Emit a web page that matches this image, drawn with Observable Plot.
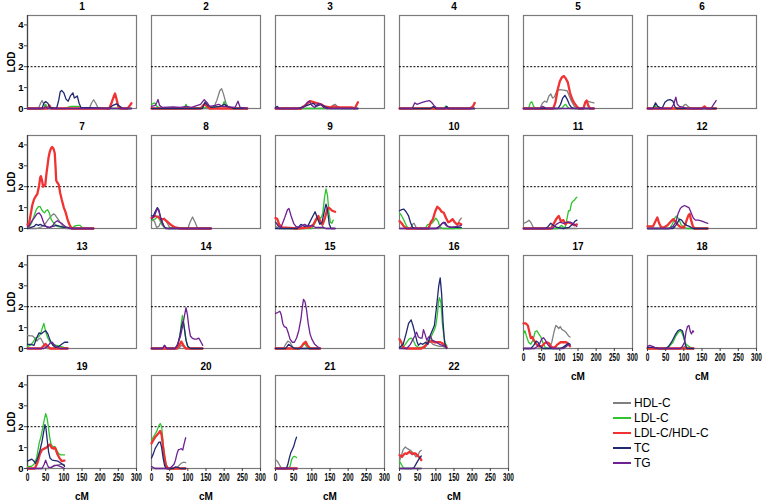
<!DOCTYPE html>
<html><head><meta charset="utf-8">
<script src="https://cdn.jsdelivr.net/npm/d3@7"></script>
<script src="https://cdn.jsdelivr.net/npm/@observablehq/plot@0.6"></script>
<style>
body{margin:0;background:#fff;}
#wrap{position:relative;width:769px;height:503px;font-family:"Liberation Sans",Arial,sans-serif;}
#legend{position:absolute;left:613px;top:396px;font-size:12px;color:#000;}
.item{display:flex;align-items:center;height:14.9px;white-space:nowrap;}
.sw{width:18px;height:2px;margin-right:3px;}
svg{overflow:visible;}
</style></head><body><div id="wrap"><div id="chart"></div><div id="legend"></div></div>
<script>
const chromosomes = ["1","2","3","4","5","6","7","8","9","10","11","12","13","14","15","16","17","18","19","20","21","22"];
const traitNames = ["HDL-C","LDL-C","LDL-C/HDL-C","TC","TG"];
const xTicks = [0,50,100,150,200,250,300];
const yTicks = [0,1,2,3,4];
const threshold = [2];

const HDL_C = {
 1:[[0,0],[30,0],[36,0.25],[40,0.38],[45,0.2],[50,0],[170,0],[176,0.25],[182,0.42],[188,0.25],[195,0],[286,0]],
 2:[[0,0],[170,0],[180,0.4],[188,0.85],[193,0.95],[198,0.7],[205,0.25],[212,0.05],[264,0]],
 3:[[0,0],[150,0],[158,0.15],[164,0.2],[170,0.1],[180,0],[227,0]],
 4:[[0,0],[207,0]],
 5:[[0,0],[45,0],[52,0.25],[58,0.35],[64,0.3],[70,0.6],[75,0.7],[80,0.5],[85,0.55],[92,0.85],[100,0.9],[110,0.88],[120,0.85],[126,0.6],[132,0.35],[140,0.1],[150,0],[165,0],[170,0.3],[176,0.35],[185,0.3],[194,0.27]],
 6:[[0,0],[95,0],[100,0.15],[105,0.2],[112,0.1],[120,0],[189,0]],
 7:[[0,0],[25,0],[35,0.05],[45,0.15],[52,0.3],[58,0.45],[63,0.55],[68,0.65],[72,0.7],[76,0.65],[80,0.55],[86,0.4],[92,0.25],[98,0.1],[105,0],[182,0]],
 8:[[0,0.4],[8,0.35],[14,0.05],[20,0.1],[28,0.4],[35,0.5],[42,0.3],[50,0.05],[100,0],[106,0.3],[113,0.55],[120,0.3],[127,0],[164,0]],
 9:[[0,0.1],[10,0],[80,0],[90,0.15],[100,0.1],[108,0.3],[115,0.5],[122,0.35],[130,0.1],[136,0],[164,0]],
 10:[[0,0],[30,0],[36,0.2],[40,0.25],[46,0.05],[55,0],[150,0],[158,0.1],[164,0.35],[170,0.5]],
 11:[[0,0.25],[8,0.3],[15,0.4],[20,0.3],[27,0.05],[35,0],[147,0]],
 12:[[0,0],[60,0],[66,0.1],[72,0.05],[80,0],[166,0]],
 13:[[0,0.63],[8,0.6],[14,0.6],[20,0.5],[26,0.35],[30,0.45],[36,0.5],[42,0.3],[48,0.1],[55,0],[111,0]],
 14:[[0,0],[75,0],[82,0.15],[88,0.1],[95,0],[141,0]],
 15:[[0,0],[22,0],[28,0.2],[34,0.35],[40,0.3],[46,0.1],[52,0],[123,0]],
 16:[[0,0.1],[10,0],[60,0],[70,0.15],[78,0.4],[84,0.35],[92,0.2],[100,0.15],[110,0.1],[120,0.1],[130,0]],
 17:[[0,0],[70,0],[78,0.3],[84,0.8],[89,1.1],[93,1.05],[97,0.95],[101,1.05],[106,0.9],[112,0.85],[118,0.75],[124,0.6],[128,0.55]],
 18:[[0,0],[95,0],[102,0.1],[108,0.05],[115,0],[127,0]],
 19:[[0,0],[60,0],[70,0.1],[80,0.15],[90,0.2],[100,0.2],[102,0.15]],
 20:[[0,0],[60,0],[70,0.05],[76,0.15],[82,0.25],[88,0.3],[94,0.28]],
 21:[[0,0.42],[5,0.35],[10,0.2],[15,0.05],[20,0],[59,0]],
 22:[[0,0.37],[5,0.6],[10,0.9],[16,1.03],[22,0.95],[30,0.87],[39,0.72],[45,0.56],[50,0.6],[55,0.8],[60,0.87]]
};

const LDL_C = {
 1:[[0,0],[45,0],[50,0.2],[54,0.05],[60,0],[105,0],[110,0.05],[120,0.1],[140,0.1],[150,0],[286,0]],
 2:[[0,0.2],[9,0.27],[15,0.1],[25,0],[90,0],[95,0.2],[100,0],[195,0.1],[200,0.33],[205,0.1],[215,0],[264,0]],
 3:[[0,0],[227,0]],
 4:[[0,0],[122,0],[128,0.12],[134,0],[207,0]],
 5:[[0,0],[14,0],[19,0.28],[23,0.32],[28,0.1],[33,0],[105,0],[112,0.15],[116,0.2],[122,0.05],[128,0],[194,0]],
 6:[[0,0],[15,0],[21,0.15],[27,0],[189,0]],
 7:[[0,0.15],[6,0.1],[12,0.3],[18,0.6],[24,0.9],[30,1.05],[35,1.05],[39,0.9],[43,0.8],[47,0.75],[51,0.85],[55,0.9],[60,0.75],[65,0.45],[70,0.3],[76,0.2],[82,0.1],[95,0.05],[115,0.05],[125,0.05],[130,0.12],[138,0.15],[145,0.15],[150,0.05],[155,0],[182,0]],
 8:[[0,0.4],[10,0.45],[18,0.6],[24,0.35],[30,0.15],[38,0],[164,0]],
 9:[[0,0.3],[6,0.2],[12,0.05],[20,0],[100,0],[110,0.3],[118,0.55],[125,0.5],[130,0.7],[135,1.5],[139,1.9],[143,1.6],[147,0.8],[151,0.3],[155,0.25],[159,0.4]],
 10:[[0,0.75],[6,0.6],[12,0.4],[20,0.1],[28,0],[70,0],[78,0.2],[85,0.2],[92,0.3],[100,0.5],[106,0.35],[112,0.05],[120,0],[170,0]],
 11:[[0,0],[95,0],[105,0.15],[110,0.05],[115,0.05],[120,0.5],[124,0.85],[128,0.85],[132,1.2],[136,1.3],[140,1.35],[144,1.45],[147,1.5]],
 12:[[0,0],[60,0],[68,0.2],[75,0.5],[80,0.6],[86,0.45],[92,0.2],[100,0.05],[110,0],[166,0]],
 13:[[0,0.1],[8,0.15],[15,0.3],[22,0.5],[30,0.55],[36,0.7],[41,1.0],[45,1.2],[50,0.8],[56,0.5],[62,0.3],[70,0.2],[80,0.15],[90,0.1],[100,0.05],[111,0]],
 14:[[0,0],[65,0],[72,0.1],[78,0.6],[82,1.2],[85,1.58],[89,1.2],[93,0.6],[98,0.15],[105,0],[141,0]],
 15:[[0,0],[65,0],[72,0.1],[79,0.25],[85,0.1],[92,0],[123,0]],
 16:[[0,0],[10,0.05],[18,0.25],[26,0.45],[32,0.5],[38,0.4],[44,0.15],[52,0.05],[70,0.05],[80,0.3],[88,0.6],[96,0.9],[100,1.1],[104,1.6],[108,2.3],[110,2.43],[114,2.2],[118,1.2],[122,0.6],[126,0.25],[130,0.15]],
 17:[[0,0.7],[4,0.85],[8,0.6],[14,0.3],[20,0.2],[26,0.4],[32,0.8],[37,0.85],[42,0.7],[48,0.55],[54,0.25],[60,0.05],[70,0],[100,0],[110,0.05],[120,0.15],[128,0.2]],
 18:[[0,0],[50,0],[60,0.1],[70,0.3],[78,0.6],[86,0.8],[92,0.85],[98,0.6],[104,0.25],[110,0.15],[118,0.05],[125,0],[127,0]],
 19:[[0,0.1],[10,0.1],[18,0.2],[25,0.5],[32,1.2],[38,1.6],[43,2.05],[47,2.4],[50,2.63],[54,2.4],[57,2.05],[61,1.5],[65,1.15],[70,1.05],[75,1.05],[80,0.9],[86,0.7],[92,0.65],[98,0.65],[102,0.65]],
 20:[[0,1.35],[5,1.5],[10,1.65],[15,1.8],[20,2.05],[24,2.15],[28,2.0],[32,1.2],[36,0.6],[40,0.2],[45,0.05],[50,0],[94,0]],
 21:[[0,0],[35,0],[40,0.1],[44,0.4],[48,0.55],[52,0.58],[56,0.55],[58,0.52]],
 22:[[0,0.35],[5,0.2],[10,0.05],[14,0],[60,0]]
};

const LDL_HDL = {
 1:[[0,0],[55,0],[60,0.15],[65,0],[225,0],[232,0.3],[238,0.6],[241,0.72],[245,0.45],[250,0.1],[255,0],[275,0],[282,0.15],[286,0.25]],
 2:[[0,0],[135,0],[142,0.15],[147,0.22],[153,0.1],[160,0],[264,0]],
 3:[[0,0],[70,0],[85,0.2],[95,0.35],[105,0.3],[115,0.25],[125,0.2],[135,0.1],[150,0.05],[160,0.1],[175,0.05],[210,0.05],[218,0],[224,0.2],[227,0.3]],
 4:[[0,0],[195,0],[202,0.1],[207,0.27]],
 5:[[0,0],[82,0],[88,0.3],[94,0.9],[100,1.3],[106,1.5],[111,1.55],[116,1.45],[122,1.25],[128,0.75],[134,0.45],[140,0.25],[147,0.1],[152,0],[165,0],[170,0.3],[174,0.38],[178,0.15],[183,0],[194,0]],
 6:[[0,0],[150,0],[157,0.1],[163,0],[189,0]],
 7:[[0,0.2],[3,0.1],[8,0.6],[13,1.1],[18,1.4],[23,1.55],[27,1.65],[32,2.05],[35,2.45],[37,2.5],[40,2.3],[43,2.0],[46,2.05],[49,2.1],[52,2.6],[55,3.0],[58,3.4],[61,3.65],[65,3.85],[68,3.9],[72,3.8],[75,3.6],[77,3.0],[79,2.3],[82,2.2],[86,2.1],[90,1.7],[94,1.4],[100,1.0],[105,0.77],[110,0.45],[114,0.25],[118,0.1],[122,0],[182,0]],
 8:[[0,0.5],[10,0.6],[18,0.55],[25,0.45],[35,0.45],[45,0.3],[55,0.15],[65,0.05],[80,0],[164,0]],
 9:[[0,0.5],[5,0.45],[10,0.2],[18,0.05],[60,0],[95,0.05],[105,0.2],[112,0.45],[118,0.6],[124,0.3],[130,0.2],[136,0.5],[142,0.9],[146,1.0],[150,0.95],[156,0.85],[164,0.8]],
 10:[[0,0.35],[6,0.25],[12,0.1],[20,0],[80,0],[86,0.3],[92,0.45],[98,0.8],[104,1.04],[110,0.95],[116,0.8],[122,0.75],[128,0.5],[134,0.3],[140,0.35],[146,0.45],[152,0.3],[158,0.2],[164,0.25],[170,0.2]],
 11:[[0,0],[75,0],[82,0.2],[90,0.45],[97,0.6],[103,0.35],[110,0.4],[115,0.2],[122,0.3],[130,0.25],[140,0.15],[147,0.2]],
 12:[[0,0.1],[15,0.1],[22,0.35],[27,0.53],[32,0.25],[38,0.05],[45,0.05],[55,0.15],[65,0.35],[71,0.45],[78,0.3],[85,0.15],[92,0.05],[100,0.05],[106,0.3],[112,0.6],[116,0.7],[120,0.4],[125,0.1],[130,0],[166,0]],
 13:[[0,0],[38,0],[45,0.15],[50,0.22],[56,0.1],[62,0],[111,0]],
 14:[[0,0],[70,0],[76,0.15],[82,0.33],[88,0.15],[94,0],[141,0]],
 15:[[0,0],[65,0],[72,0.1],[78,0.25],[83,0.32],[88,0.15],[95,0],[123,0]],
 16:[[0,0.45],[5,0.3],[10,0.05],[20,0],[60,0],[70,0.1],[80,0.3],[88,0.36],[95,0.3],[104,0.3],[112,0.3],[118,0.25],[124,0.15],[130,0.05]],
 17:[[0,1.2],[6,1.2],[12,1.1],[16,0.8],[20,0.5],[24,0.55],[30,0.35],[36,0.2],[42,0.1],[50,0.1],[58,0.25],[64,0.3],[70,0.25],[78,0.05],[86,0.05],[94,0.2],[102,0.3],[110,0.3],[118,0.3],[124,0.2],[128,0.1]],
 18:[[0,0],[127,0]],
 19:[[0,0],[20,0],[28,0.3],[34,0.7],[40,0.9],[46,0.95],[52,1.0],[58,1.1],[62,1.15],[66,1.0],[72,0.95],[76,1.0],[82,0.7],[88,0.5],[94,0.35],[100,0.38],[102,0.38]],
 20:[[0,1.2],[5,1.35],[10,1.5],[15,1.6],[20,1.7],[24,1.8],[28,1.6],[32,1.0],[36,0.5],[40,0.15],[45,0],[94,0]],
 21:[[0,0],[59,0]],
 22:[[0,0.64],[4,0.6],[7,0.56],[11,0.65],[15,0.72],[20,0.7],[27,0.8],[31,0.75],[35,0.69],[40,0.72],[44,0.72],[48,0.65],[53,0.56],[57,0.5],[60,0.4]]
};

const TC = {
 1:[[0,0],[40,0],[45,0.25],[50,0.33],[56,0.25],[62,0.05],[80,0],[86,0.4],[90,0.8],[94,0.86],[100,0.75],[106,0.45],[112,0.35],[118,0.6],[125,0.75],[129,0.5],[133,0.55],[137,0.6],[142,0.25],[147,0.05],[225,0],[235,0.15],[245,0.22],[255,0.1],[262,0],[286,0]],
 2:[[0,0],[140,0],[147,0.3],[155,0.15],[165,0.05],[190,0.1],[200,0.2],[210,0.1],[225,0],[264,0]],
 3:[[0,0.05],[5,0.1],[10,0],[60,0],[80,0.1],[95,0.2],[105,0.25],[112,0.1],[125,0.2],[130,0.15],[140,0.05],[150,0],[227,0]],
 4:[[0,0],[85,0],[94,0.1],[100,0],[125,0],[130,0.1],[135,0],[207,0]],
 5:[[0,0],[95,0],[102,0.2],[108,0.5],[114,0.63],[120,0.45],[126,0.2],[132,0.05],[140,0],[194,0]],
 6:[[0,0],[15,0],[22,0.27],[28,0.1],[40,0],[48,0.3],[55,0.4],[62,0.43],[70,0.35],[75,0.1],[80,0],[189,0]],
 7:[[0,0],[10,0.05],[18,0.1],[24,0.2],[30,0.15],[35,0.2],[40,0.15],[50,0.1],[60,0.05],[70,0.1],[80,0.15],[90,0.1],[100,0.05],[110,0.05],[120,0],[182,0]],
 8:[[0,0.6],[5,0.6],[10,0.8],[16,1.0],[20,0.9],[25,0.55],[30,0.3],[36,0.05],[45,0],[164,0]],
 9:[[0,0],[60,0],[70,0.2],[80,0.1],[90,0.15],[100,0.5],[109,0.8],[115,0.5],[122,0.2],[128,0.3],[134,0.8],[139,1.17],[143,0.9],[148,0.2],[153,0],[164,0]],
 10:[[0,0.85],[6,0.9],[12,0.93],[18,0.8],[25,0.6],[30,0.3],[36,0.05],[45,0],[100,0],[110,0.1],[118,0.25],[125,0.3],[132,0.1],[145,0.05],[170,0.05]],
 11:[[0,0],[60,0],[68,0.1],[75,0.25],[82,0.15],[92,0.05],[110,0],[125,0.05],[135,0.2],[142,0.35],[147,0.4]],
 12:[[0,0],[70,0],[80,0.2],[88,0.45],[94,0.4],[100,0.25],[108,0.15],[115,0.1],[125,0],[166,0]],
 13:[[0,0.2],[10,0.2],[18,0.15],[25,0.5],[32,0.75],[38,0.7],[45,0.8],[50,0.85],[56,0.7],[62,0.4],[70,0.15],[78,0.05],[86,0.1],[94,0.2],[102,0.3],[111,0.3]],
 14:[[0,0],[30,0],[36,0.15],[42,0],[65,0],[72,0.2],[78,0.6],[83,1.1],[87,1.32],[91,0.9],[95,0.4],[100,0.1],[108,0],[141,0]],
 15:[[0,0],[28,0],[36,0.2],[44,0.1],[52,0],[123,0]],
 16:[[0,0.05],[10,0.2],[18,0.7],[25,1.2],[32,1.37],[37,1.1],[42,0.76],[48,0.35],[52,0.15],[58,0.25],[64,0.2],[72,0.3],[78,0.2],[84,0.6],[90,0.85],[96,1.1],[102,2.0],[108,3.0],[112,3.38],[116,2.6],[120,1.2],[124,0.3],[128,0.05],[130,0]],
 17:[[0,0],[20,0],[28,0.15],[35,0.35],[40,0.3],[46,0.1],[54,0],[100,0],[108,0.05],[116,0.15],[124,0.25],[128,0.2]],
 18:[[0,0.05],[15,0.05],[30,0],[50,0],[58,0.1],[66,0.3],[72,0.5],[78,0.7],[84,0.85],[90,0.9],[96,0.85],[100,0.6],[104,0.2],[108,0],[127,0]],
 19:[[0,0.35],[6,0.4],[12,0.45],[18,0.35],[22,0.25],[28,0.5],[34,0.85],[40,1.3],[45,1.8],[48,2.1],[51,1.9],[54,1.4],[58,0.8],[62,0.5],[68,0.4],[76,0.38],[84,0.35],[92,0.25],[100,0.15],[102,0.1]],
 20:[[0,0.5],[5,0.7],[10,0.95],[15,1.1],[20,1.25],[24,1.27],[28,1.0],[32,0.5],[36,0.15],[40,0],[60,0],[66,0.08],[72,0.05],[80,0],[94,0]],
 21:[[0,0],[30,0],[34,0.2],[38,0.5],[42,0.75],[46,0.9],[50,1.05],[54,1.3],[58,1.5]],
 22:[[0,0],[35,0],[40,0.05],[45,0.2],[50,0.35],[55,0.5],[60,0.6]]
};

const TG = {
 1:[[0,0],[45,0],[50,0.08],[56,0],[286,0]],
 2:[[0,0.1],[10,0.15],[15,0.3],[18,0.43],[22,0.15],[30,0.05],[60,0.08],[80,0.05],[95,0.1],[110,0.05],[135,0.2],[145,0.42],[152,0.3],[160,0.1],[175,0.15],[185,0.2],[195,0.1],[230,0.05],[238,0.35],[244,0.05],[264,0]],
 3:[[0,0],[70,0],[80,0.1],[88,0.3],[93,0.35],[100,0.15],[108,0.05],[118,0.25],[125,0.2],[132,0.05],[140,0],[227,0]],
 4:[[0,0],[35,0],[42,0.27],[48,0.2],[55,0.25],[65,0.3],[75,0.35],[82,0.38],[88,0.3],[95,0.15],[103,0],[207,0]],
 5:[[0,0],[45,0],[52,0.1],[58,0.05],[64,0],[194,0]],
 6:[[0,0],[65,0],[72,0.2],[78,0.54],[82,0.2],[88,0.1],[100,0.05],[110,0],[175,0],[182,0.2],[189,0.38]],
 7:[[0,0.1],[5,0.15],[12,0.35],[20,0.55],[26,0.7],[32,0.75],[38,0.6],[44,0.3],[48,0.15],[55,0.05],[62,0.05],[70,0.15],[76,0.3],[82,0.37],[88,0.3],[94,0.25],[100,0.15],[108,0.05],[115,0],[182,0]],
 8:[[0,0.45],[8,0.6],[16,0.95],[20,0.85],[26,0.4],[32,0.15],[40,0],[164,0]],
 9:[[0,0.3],[8,0.1],[15,0.05],[25,0.5],[33,0.9],[37,0.96],[43,0.6],[50,0.25],[56,0.1],[65,0.05],[80,0.2],[90,0.1],[100,0.15],[110,0.05],[130,0.05],[140,0],[164,0]],
 10:[[0,0],[105,0],[115,0.2],[121,0.3],[128,0.15],[140,0.05],[160,0.1],[170,0.15]],
 11:[[0,0],[80,0],[90,0.2],[100,0.3],[110,0.25],[120,0.3],[130,0.3],[140,0.2],[147,0.1]],
 12:[[0,0],[60,0],[70,0.1],[78,0.3],[84,0.7],[90,0.95],[96,1.05],[102,1.1],[108,1.05],[114,1.0],[120,0.75],[126,0.5],[132,0.4],[140,0.4],[150,0.35],[160,0.28],[166,0.25]],
 13:[[0,0],[45,0],[55,0.1],[62,0.25],[68,0.3],[75,0.15],[82,0.05],[90,0],[111,0]],
 14:[[0,0],[30,0],[36,0.15],[42,0],[65,0],[72,0.2],[80,0.6],[86,1.1],[91,1.6],[95,1.95],[99,1.6],[103,1.0],[107,0.6],[112,0.5],[118,0.45],[124,0.45],[130,0.5],[135,0.35],[141,0.15]],
 15:[[0,1.68],[6,1.72],[12,1.78],[16,1.6],[20,1.2],[24,1.05],[30,1.0],[35,0.75],[40,0.45],[46,0.3],[52,0.3],[58,0.5],[64,0.85],[70,1.4],[74,2.0],[77,2.35],[81,2.25],[85,1.9],[90,1.2],[95,0.7],[100,0.45],[108,0.2],[115,0.1],[123,0]],
 16:[[0,0],[20,0],[30,0.2],[36,0.4],[42,0.6],[47,0.78],[52,0.55],[58,0.5],[62,0.5],[66,0.9],[70,0.7],[75,0.4],[80,0.55],[85,0.6],[90,0.4],[96,0.35],[102,0.3],[110,0.2],[118,0.15],[126,0.1],[130,0.05]],
 17:[[0,0],[30,0],[38,0.1],[45,0.25],[50,0.45],[55,0.52],[60,0.4],[66,0.2],[74,0.05],[80,0],[110,0],[118,0.1],[124,0.2],[128,0.15]],
 18:[[0,0.1],[6,0.15],[14,0.1],[20,0.05],[30,0],[90,0],[96,0.1],[102,0.3],[106,0.8],[110,1.05],[114,1.1],[118,0.8],[121,0.7],[125,0.85],[127,0.8]],
 19:[[0,0],[40,0],[46,0.2],[50,0.4],[54,0.2],[58,0.05],[66,0.05],[74,0.15],[82,0.15],[90,0.1],[96,0.05],[102,0]],
 20:[[0,0.1],[5,0.05],[10,0],[50,0],[56,0.1],[62,0.2],[66,0.4],[70,0.7],[74,0.9],[78,0.92],[82,0.95],[86,0.88],[90,1.2],[94,1.47]],
 21:[[0,0],[59,0]],
 22:[[0,0],[60,0]]
};

const traitData = [HDL_C, LDL_C, LDL_HDL, TC, TG];
const traitColors = ["#808080", "#2fc42f", "#f03232", "#1f2870", "#6e2190"];
const traitWidths = [1.3, 1.3, 2.3, 1.3, 1.3];

const panels = chromosomes.map((c, i) => ({chr: c, col: i % 6, row: Math.floor(i / 6)}));

function rowsFor(obj) {
  const out = [];
  panels.forEach(p => {
    (obj[p.chr] || []).forEach(([x, y]) => out.push({chr: p.chr, col: p.col, row: p.row, cM: x, lod: y}));
  });
  return out;
}

const lineMarks = traitData.map((obj, k) =>
  Plot.line(rowsFor(obj), {x: "cM", y: "lod", z: "chr", fx: "col", fy: "row",
    stroke: traitColors[k], strokeWidth: traitWidths[k], strokeLinejoin: "round"}));

const chart = Plot.plot({
  width: 769,
  height: 503,
  marginLeft: 25,
  marginRight: 10,
  marginTop: 14,
  marginBottom: 34,
  style: {fontFamily: "'Liberation Sans', Arial, sans-serif", fontWeight: "bold", fontSize: "10px", color: "#000", background: "#fff", overflow: "visible"},
  fx: {domain: [0,1,2,3,4,5], paddingInner: 0.12, paddingOuter: 0, axis: null},
  fy: {domain: [0,1,2,3], paddingInner: 0.227, paddingOuter: 0, axis: null},
  x: {domain: [0, 300], axis: null},
  y: {domain: [0, 4.45], axis: null},
  marks: [
    Plot.frame({stroke: "#7a7a7a", strokeWidth: 1.2}),
    Plot.ruleX([0], {stroke: "#444", strokeWidth: 1.2, facetAnchor: "left"}),
    Plot.ruleY(threshold, {stroke: "#000", strokeWidth: 1, strokeDasharray: "2,1.6"}),
    ...lineMarks,
    Plot.axisX({ticks: xTicks, tickSize: 3, tickPadding: 2, label: null, facetAnchor: "bottom-empty",
      stroke: "#444", fontSize: 10, fontWeight: "bold"}),
    Plot.axisY({ticks: yTicks, tickFormat: d => String(d), tickSize: 3, tickPadding: 1, label: null, facetAnchor: "left",
      stroke: "#444", fontSize: 9.5, fontWeight: "bold"}),
    Plot.text(["LOD"], {frameAnchor: "left", dx: -16, rotate: -90, textAnchor: "middle", lineAnchor: "middle", facetAnchor: "left", fontSize: 10, fontWeight: "bold"}),
    Plot.text(["cM"], {frameAnchor: "bottom", dy: 28.5, lineAnchor: "middle", facetAnchor: "bottom-empty", fontSize: 10, fontWeight: "bold"}),
    Plot.text(panels, {fx: "col", fy: "row", text: "chr", frameAnchor: "top", dy: -9, lineAnchor: "middle", fontSize: 10, fontWeight: "bold"})
  ]
});
document.getElementById("chart").appendChild(chart);

// condensed look of the cM tick labels, as in the reference
chart.querySelectorAll('g[aria-label="x-axis tick label"] text').forEach(t => {
  const n = t.textContent.length;
  t.setAttribute("textLength", (n * 3.6).toFixed(1));
  t.setAttribute("lengthAdjust", "spacingAndGlyphs");
});

const legend = document.getElementById("legend");
traitNames.forEach((name, k) => {
  const item = document.createElement("div");
  item.className = "item";
  const sw = document.createElement("span");
  sw.className = "sw";
  sw.style.background = traitColors[k];
  const label = document.createElement("span");
  label.textContent = name;
  item.appendChild(sw);
  item.appendChild(label);
  legend.appendChild(item);
});
</script>
</body></html>
